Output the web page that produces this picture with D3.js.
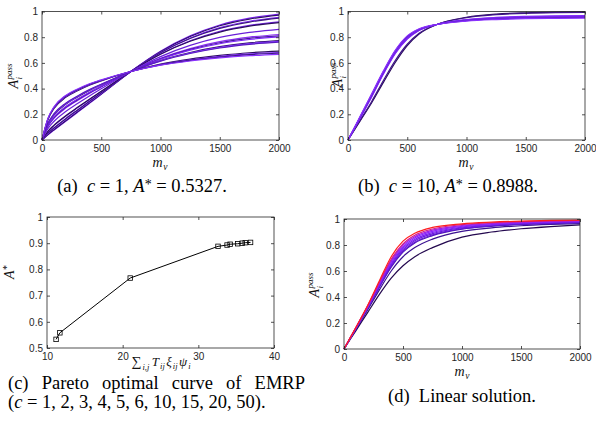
<!DOCTYPE html>
<html><head><meta charset="utf-8">
<script src="https://cdn.jsdelivr.net/npm/d3@7"></script>
<style>body{margin:0;background:#fff} svg{display:block}</style>
</head><body>
<svg id="c" width="596" height="428"></svg>
<script>
// ---------- data ----------
const mvA = [0, 50, 100, 200, 300, 400, 500, 750, 1000, 1250, 1500, 1750, 2000];
const curvesA = [
  [0,0.040,0.075,0.145,0.215,0.285,0.355,0.533,0.690,0.810,0.895,0.948,0.980],
  [0,0.043,0.080,0.150,0.220,0.289,0.358,0.533,0.687,0.805,0.889,0.941,0.972],
  [0,0.050,0.090,0.161,0.230,0.297,0.364,0.533,0.681,0.794,0.874,0.924,0.955],
  [0,0.053,0.093,0.166,0.234,0.301,0.367,0.533,0.679,0.790,0.869,0.918,0.948],
  [0,0.065,0.110,0.184,0.250,0.314,0.377,0.533,0.669,0.772,0.846,0.892,0.920],
  [0,0.067,0.114,0.188,0.254,0.318,0.379,0.533,0.667,0.768,0.840,0.886,0.913],
  [0,0.089,0.144,0.222,0.284,0.343,0.398,0.533,0.649,0.736,0.798,0.837,0.861],
  [0,0.105,0.168,0.248,0.308,0.363,0.413,0.533,0.635,0.711,0.765,0.800,0.821],
  [0,0.109,0.173,0.254,0.313,0.367,0.416,0.533,0.632,0.705,0.757,0.791,0.811],
  [0,0.113,0.179,0.260,0.319,0.372,0.419,0.533,0.628,0.699,0.749,0.782,0.802],
  [0,0.125,0.195,0.278,0.335,0.386,0.430,0.533,0.619,0.681,0.726,0.756,0.773],
  [0,0.127,0.199,0.282,0.339,0.389,0.432,0.533,0.616,0.677,0.721,0.750,0.767],
  [0,0.130,0.203,0.286,0.343,0.392,0.434,0.533,0.614,0.673,0.716,0.744,0.761],
  [0,0.158,0.243,0.332,0.383,0.426,0.460,0.533,0.590,0.630,0.658,0.679,0.691],
  [0,0.162,0.249,0.338,0.389,0.431,0.463,0.533,0.587,0.624,0.651,0.670,0.681],
  [0,0.165,0.253,0.342,0.393,0.434,0.465,0.533,0.584,0.620,0.645,0.664,0.675],
  [0,0.168,0.257,0.347,0.397,0.438,0.468,0.533,0.582,0.615,0.639,0.656,0.667]
];
const colorsA = ["#7a22f0","#2e0f66","#8a30ff","#3a1580","#7424e8","#2b0d5c","#6a1fd8","#8a2cf5","#4a18a0","#7d25f5","#2e0f66","#8030ff","#5a1cc0","#2b0d5c","#7a22f0","#3a1580","#8a30ff"];

const mvB = [0, 100, 200, 300, 400, 500, 600, 750, 1000, 1250, 1500, 1750, 2000];
const curvesB = [
  [0,0.145,0.290,0.450,0.605,0.735,0.825,0.899,0.955,0.980,0.990,0.995,0.997],
  [0,0.150,0.300,0.465,0.620,0.745,0.830,0.899,0.952,0.975,0.986,0.991,0.993],
  [0,0.165,0.335,0.515,0.673,0.785,0.852,0.899,0.937,0.954,0.962,0.966,0.968],
  [0,0.168,0.340,0.520,0.680,0.790,0.855,0.899,0.935,0.951,0.959,0.963,0.965],
  [0,0.170,0.345,0.525,0.685,0.795,0.857,0.899,0.933,0.948,0.955,0.959,0.961],
  [0,0.172,0.350,0.530,0.690,0.800,0.860,0.899,0.931,0.945,0.952,0.956,0.958],
  [0,0.175,0.355,0.535,0.695,0.805,0.862,0.899,0.928,0.941,0.948,0.952,0.954],
  [0,0.180,0.360,0.540,0.700,0.810,0.865,0.899,0.925,0.937,0.944,0.947,0.949]
];
const colorsB = ["#2b0d5c","#3d1488","#7a22f0","#8a30ff","#6c1fe0","#7e28f8","#5a1cc0","#8a30ff"];

const paretoX = [11.2, 11.7, 21.0, 32.6, 33.8, 34.2, 35.2, 35.8, 36.2, 36.9];
const paretoY = [0.533, 0.558, 0.767, 0.888, 0.893, 0.896, 0.898, 0.900, 0.902, 0.903];

const mvD = [0, 100, 200, 300, 400, 500, 600, 750, 1000, 1250, 1500, 1750, 2000];
const curvesD = [
  [0,0.140,0.280,0.420,0.545,0.640,0.710,0.780,0.860,0.900,0.925,0.942,0.955],
  [0,0.150,0.300,0.455,0.600,0.710,0.780,0.845,0.905,0.932,0.948,0.958,0.965],
  [0,0.155,0.310,0.475,0.630,0.745,0.815,0.872,0.922,0.944,0.957,0.965,0.971],
  [0,0.156,0.313,0.480,0.637,0.753,0.822,0.878,0.926,0.947,0.960,0.967,0.973],
  [0,0.158,0.316,0.486,0.648,0.764,0.833,0.887,0.932,0.952,0.964,0.971,0.976],
  [0,0.159,0.320,0.493,0.658,0.775,0.843,0.896,0.938,0.957,0.968,0.975,0.979],
  [0,0.161,0.324,0.500,0.669,0.786,0.854,0.905,0.944,0.962,0.972,0.978,0.983],
  [0,0.162,0.328,0.507,0.679,0.798,0.864,0.914,0.950,0.966,0.976,0.982,0.986],
  [0,0.164,0.331,0.513,0.690,0.809,0.875,0.923,0.956,0.971,0.980,0.985,0.989],
  [0,0.165,0.335,0.525,0.710,0.830,0.890,0.935,0.963,0.976,0.984,0.989,0.992]
];
const colorsD = ["#24094f","#3a1290","#4f16b8","#5e18d0","#6c1ae0","#7a1ef0","#8a24ff","#9a20e8","#d01a90","#ff1e1e"];

const mvTicks = [0, 500, 1000, 1500, 2000];
const aTicks = [0, 0.2, 0.4, 0.6, 0.8, 1];
const xTicksC = [10, 20, 30, 40];
const yTicksC = [0.5, 0.6, 0.7, 0.8, 0.9, 1];

// ---------- drawing ----------
const svg = d3.select("#c");
const SANS = "'Liberation Sans', Arial, Helvetica, sans-serif";
const SERIF = "'Liberation Serif', 'Times New Roman', serif";
const AX = "#262626";
const fmt = d3.format("~g");

function panel(b, xd, yd, xt, yt) {
  const x = d3.scaleLinear().domain(xd).range([b.l, b.r]);
  const y = d3.scaleLinear().domain(yd).range([b.b, b.t]);
  const g = svg.append("g");
  const data = g.append("g");
  const ax = g.append("g").attr("font-family", SANS).attr("font-size", 12).attr("color", AX);
  const clean = s => { s.select(".domain").remove(); s.selectAll(".tick line").attr("stroke-width", 0.8); };
  ax.append("g").attr("transform", `translate(0,${b.b})`)
    .call(d3.axisBottom(x).tickValues(xt).tickSize(-3).tickPadding(5).tickFormat(fmt)).call(clean);
  ax.append("g").attr("transform", `translate(0,${b.t})`)
    .call(d3.axisTop(x).tickValues(xt).tickSize(-3).tickFormat("")).call(clean);
  ax.append("g").attr("transform", `translate(${b.l},0)`)
    .call(d3.axisLeft(y).tickValues(yt).tickSize(-3).tickPadding(4).tickFormat(fmt)).call(clean);
  ax.append("g").attr("transform", `translate(${b.r},0)`)
    .call(d3.axisRight(y).tickValues(yt).tickSize(-3).tickFormat("")).call(clean);
  ax.append("rect").attr("x", b.l).attr("y", b.t).attr("width", b.r - b.l).attr("height", b.b - b.t)
    .attr("fill", "none").attr("stroke", AX).attr("stroke-width", 0.8);
  return {x, y, data};
}

function curves(p, xs, list, colors) {
  const line = d3.line().x((d, i) => p.x(xs[i])).y(d => p.y(d)).curve(d3.curveMonotoneX);
  p.data.selectAll(null).data(list).join("path")
    .attr("d", d => line(d)).attr("fill", "none")
    .attr("stroke", (d, i) => colors[i]).attr("stroke-width", 1.2);
}

// math label built from sequential pieces; p.stack = place at previous piece's start
function mathSeq(x, y, rot, parts) {
  const g = svg.append("g").attr("transform", `translate(${x},${y}) rotate(${rot})`);
  const inner = g.append("g");
  let cx = 0, prevStart = 0;
  parts.forEach(p => {
    const start = p.stack ? prevStart : cx + (p.gap || 0);
    const t = inner.append("text").attr("x", start).attr("y", p.y || 0)
      .attr("font-family", SERIF).attr("font-size", p.fs).attr("fill", "#111").text(p.t);
    if (p.it) t.attr("font-style", "italic");
    const w = t.node().getComputedTextLength();
    if (p.stack) { cx = Math.max(cx, start + w); }
    else { prevStart = start; cx = start + w; }
  });
  inner.attr("transform", `translate(${-cx / 2},0)`);
}
const mvLabel = [{t:"m", it:1, fs:14}, {t:"v", it:1, fs:9.5, y:3, gap:0.5}];
const apassLabel = [{t:"A", it:1, fs:14}, {t:"pass", it:1, fs:9, y:-6, gap:0.5}, {t:"i", it:1, fs:9, y:4, stack:1}];

// (a)
const pa = panel({l:42, r:279, t:11.5, b:140}, [0, 2000], [0, 1], mvTicks, aTicks);
curves(pa, mvA, curvesA, colorsA);
mathSeq(160, 167, 0, mvLabel);
mathSeq(18, 76, -90, apassLabel);

// (b)
const pb = panel({l:348, r:585, t:11.5, b:140}, [0, 2000], [0, 1], mvTicks, aTicks);
curves(pb, mvB, curvesB, colorsB);
mathSeq(466, 167, 0, mvLabel);
mathSeq(342, 75, -90, apassLabel);

// (c)
const pc = panel({l:47, r:274, t:217, b:348}, [10, 40], [0.5, 1], xTicksC, yTicksC);
const pts = paretoX.map((v, i) => [v, paretoY[i]]);
pc.data.append("path").attr("d", d3.line().x(d => pc.x(d[0])).y(d => pc.y(d[1]))(pts))
  .attr("fill", "none").attr("stroke", "#000").attr("stroke-width", 1);
pc.data.selectAll(null).data(pts).join("rect")
  .attr("x", d => pc.x(d[0]) - 2.25).attr("y", d => pc.y(d[1]) - 2.25)
  .attr("width", 4.5).attr("height", 4.5).attr("fill", "none").attr("stroke", "#000").attr("stroke-width", 0.8);
mathSeq(14, 272, -90, [{t:"A", it:1, fs:14}, {t:"*", fs:10, y:-4, gap:0.5}]);
mathSeq(161, 366, 0, [
  {t:"\u2211", fs:14}, {t:"i,j", it:1, fs:8.5, y:3.5, gap:1},
  {t:"T", it:1, fs:13, gap:2.5}, {t:"ij", it:1, fs:8.5, y:3, gap:1},
  {t:"\u03BE", it:1, fs:13, gap:1.5}, {t:"ij", it:1, fs:8.5, y:3, gap:1},
  {t:"\u03C8", it:1, fs:13, gap:1.5}, {t:"i", it:1, fs:8.5, y:3, gap:1}
]);

// (d)
const pd = panel({l:344, r:580, t:219, b:349}, [0, 2000], [0, 1], mvTicks, aTicks);
curves(pd, mvD, curvesD, colorsD);
mathSeq(462, 376, 0, mvLabel);
mathSeq(319, 285, -90, apassLabel);

// ---------- captions ----------
const CF = 18.5;
function caption(x, y, parts, anchor) {
  const t = svg.append("text").attr("x", x).attr("y", y).attr("font-family", SERIF)
    .attr("font-size", CF).attr("text-anchor", anchor || "middle").attr("fill", "#000");
  parts.forEach(p => {
    const s = t.append("tspan").text(p.t);
    if (p.it) s.attr("font-style", "italic");
    if (p.dy) s.attr("dy", p.dy);
    if (p.fs) s.attr("font-size", p.fs);
  });
  return t;
}
caption(142, 192, [{t:"(a)\u2002"}, {t:"c", it:1}, {t:" = 1, "}, {t:"A", it:1}, {t:"*", fs:14, dy:-3}, {t:" = 0.5327.", dy:3}]);
caption(448, 192, [{t:"(b)\u2002"}, {t:"c", it:1}, {t:" = 10, "}, {t:"A", it:1}, {t:"*", fs:14, dy:-3}, {t:" = 0.8988.", dy:3}]);
const l1 = caption(8, 389, [{t:"(c) Pareto optimal curve of EMRP"}], "start");
const nat = l1.node().getComputedTextLength();
l1.attr("word-spacing", (297 - nat) / 5);
caption(8, 408, [{t:"("}, {t:"c", it:1}, {t:" = 1, 2, 3, 4, 5, 6, 10, 15, 20, 50)."}], "start");
caption(462, 402, [{t:"(d)\u2002Linear solution."}]);
</script>
</body></html>
